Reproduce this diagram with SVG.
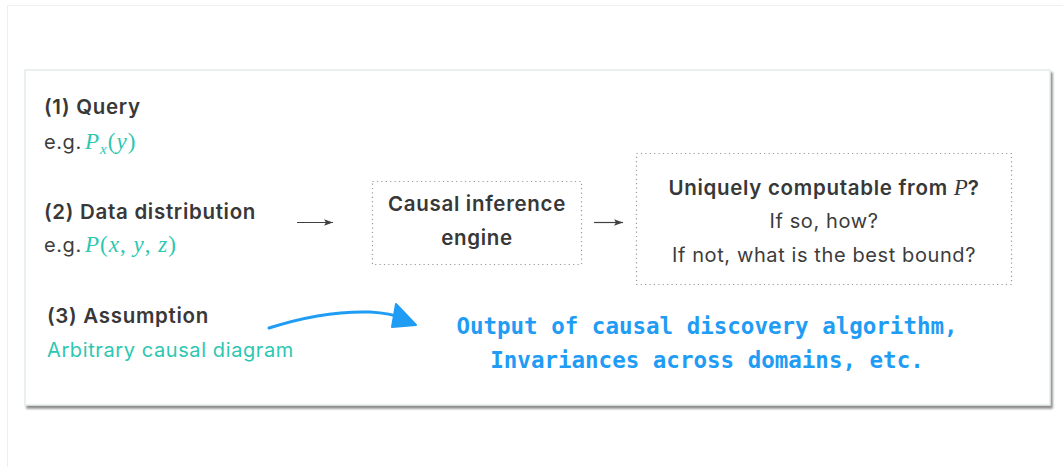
<svg xmlns="http://www.w3.org/2000/svg" width="1063" height="467" viewBox="0 0 1063 467">
  <defs>
    <style>
      .h { font-family: Inter, "Open Sans", "DejaVu Sans", sans-serif; font-weight: 600; font-size: 20.5px; letter-spacing: 0.7px; fill: #383838; }
      .t { font-family: Inter, "Open Sans", "DejaVu Sans", sans-serif; font-weight: 400; font-size: 20px; letter-spacing: 0.6px; fill: #3c3c3c; }
      .teal { fill: #2cc7b1; }
      .math { font-family: "Liberation Serif", "DejaVu Serif", serif; font-style: italic; font-size: 23px; letter-spacing: 1px; fill: #2cc7b1; }
      .mathd { font-family: "Liberation Serif", "DejaVu Serif", serif; font-style: italic; font-size: 23px; letter-spacing: 0; fill: #383838; }
      .up { font-style: normal; }
      .hand { font-family: "DejaVu Sans Mono", "Liberation Mono", monospace; font-weight: 700; font-size: 22.5px; fill: #1f9cf4; }
      .box { fill: none; stroke: #9a9a9a; stroke-width: 1.2; stroke-dasharray: 1.2 3.2; }
      .conn { stroke: #404040; stroke-width: 1.2; fill: none; }
    </style>
    <marker id="ah" markerWidth="10" markerHeight="8" refX="9" refY="4" orient="auto" markerUnits="userSpaceOnUse">
      <path d="M0,0.8 L9,4 L0,7.2 L2,4 Z" fill="#404040"/>
    </marker>
    <filter id="sh" x="-5%" y="-5%" width="110%" height="115%">
      <feDropShadow dx="2" dy="3" stdDeviation="1" flood-color="#6f6f6f" flood-opacity="0.8"/>
    </filter>
  </defs>

  <!-- page background -->
  <rect x="0" y="0" width="1063" height="467" fill="#ffffff"/>
  <path d="M7.5,467 V5.5 H1063" fill="none" stroke="#efefef" stroke-width="1"/>

  <!-- card -->
  <rect x="25" y="70" width="1025" height="335" fill="#ffffff" stroke="#e4ebeb" stroke-width="1.5" filter="url(#sh)"/>

  <!-- inputs -->
  <g id="query">
    <text class="h" x="44" y="114">(1) Query</text>
    <text class="t" x="44" y="149">e.g.</text>
    <text class="math" x="85" y="149">P<tspan font-size="15" dy="5">x</tspan><tspan class="up" dy="-5">(</tspan>y<tspan class="up">)</tspan></text>
  </g>
  <g id="data">
    <text class="h" x="44" y="219">(2) Data distribution</text>
    <text class="t" x="44" y="252">e.g.</text>
    <text class="math" x="85" y="252">P<tspan class="up">(</tspan>x<tspan class="up">, </tspan>y<tspan class="up">, </tspan>z<tspan class="up">)</tspan></text>
  </g>
  <g id="assumption">
    <text class="h" x="47" y="323">(3) Assumption</text>
    <text class="t teal" x="47" y="357">Arbitrary causal diagram</text>
  </g>

  <!-- engine -->
  <g id="engine">
    <rect class="box" x="372.5" y="181.5" width="209" height="83"/>
    <text class="h" x="477" y="211" text-anchor="middle">Causal inference</text>
    <text class="h" x="477" y="245" text-anchor="middle">engine</text>
  </g>

  <!-- result -->
  <g id="result">
    <rect class="box" x="636.5" y="153.5" width="375" height="131"/>
    <text class="h" x="824" y="195" text-anchor="middle">Uniquely computable from <tspan class="mathd" font-weight="400">P</tspan>?</text>
    <text class="t" x="824" y="228" text-anchor="middle">If so, how?</text>
    <text class="t" x="824" y="262" text-anchor="middle">If not, what is the best bound?</text>
  </g>

  <!-- handwritten note -->
  <g id="note">
    <text class="hand" x="707" y="334" text-anchor="middle">Output of causal discovery algorithm,</text>
    <text class="hand" x="707" y="368" text-anchor="middle">Invariances across domains, etc.</text>
  </g>

  <!-- connectors -->
  <g id="connectors">
    <line class="conn" x1="297" y1="222.5" x2="333" y2="222.5" marker-end="url(#ah)"/>
    <line class="conn" x1="594" y1="222.5" x2="623" y2="222.5" marker-end="url(#ah)"/>
    <path d="M269,328 C300,318 335,311 370,312 C386,313 395,315 402,318" fill="none" stroke="#1f9cf4" stroke-width="3" stroke-linecap="round"/>
    <path d="M396,304 L416,325 L392,327 Z" fill="#1f9cf4" stroke="#1f9cf4" stroke-width="2" stroke-linejoin="round"/>
  </g>
</svg>
